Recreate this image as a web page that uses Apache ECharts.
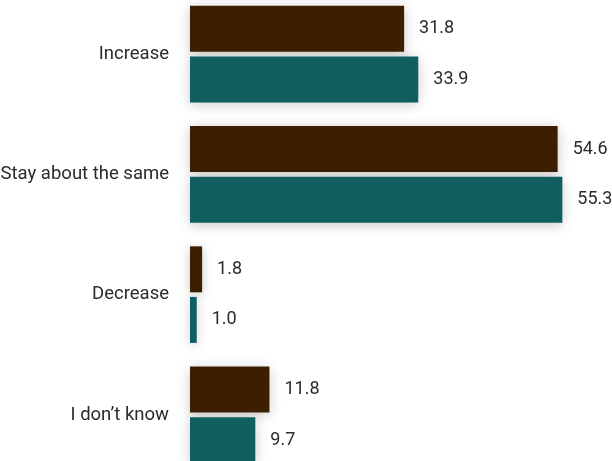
<!DOCTYPE html>
<html>
<head>
<meta charset="utf-8">
<script src="https://cdn.jsdelivr.net/npm/echarts@6/dist/echarts.min.js"></script>
<style>
  html, body { margin: 0; padding: 0; background: #fff; overflow: hidden; }
  #chart { width: 612px; height: 461px; }
</style>
</head>
<body>
<div id="chart"></div>
<script>
// answers, top to bottom
const categories = ['Increase', 'Stay about the same', 'Decrease', 'I don\u2019t know'];
const firstValues = [31.8, 54.6, 1.8, 11.8];
const secondValues = [33.9, 55.3, 1.0, 9.7];

const FONT = 'Roboto, sans-serif';

const chart = echarts.init(document.getElementById('chart'));

const barStyle = (color) => ({
    color: color,
    shadowBlur: 12,
    shadowColor: 'rgba(0,0,0,0.22)',
    shadowOffsetY: 2
});

const label = {
    show: true,
    position: 'right',
    distance: 15,
    color: '#2b2b2b',
    fontFamily: FONT,
    fontSize: 18,
    formatter: (p) => p.value.toFixed(1)
};

chart.setOption({
    animation: false,
    grid: { left: 190, right: 18, top: -6, bottom: -14, containLabel: false, outerBoundsMode: 'none' },
    xAxis: { type: 'value', min: 0, max: 60, show: false },
    yAxis: {
        type: 'category',
        data: categories,
        inverse: true,
        axisLine: { show: false },
        axisTick: { show: false },
        axisLabel: { color: '#2b2b2b', fontFamily: FONT, fontSize: 18.5, margin: 21 }
    },
    series: [
        {
            type: 'bar',
            data: firstValues,
            barWidth: 46,
            barGap: '10%',
            itemStyle: barStyle('#3d1f00'),
            label: label
        },
        {
            type: 'bar',
            data: secondValues,
            barWidth: 46,
            itemStyle: barStyle('#105e5f'),
            label: label
        }
    ]
});
</script>
</body>
</html>
